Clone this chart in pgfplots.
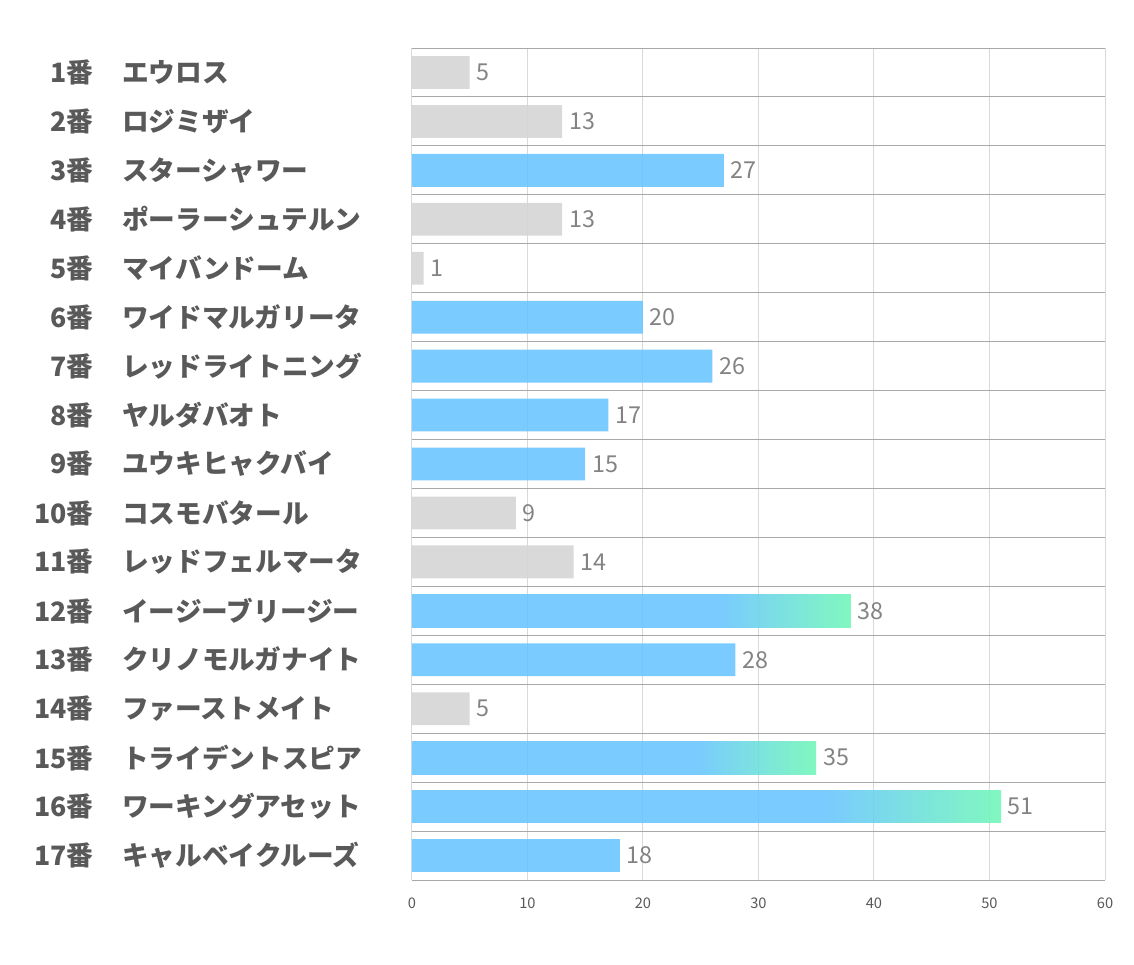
\documentclass[border=0pt]{standalone}
\usepackage{fontspec}
\setmainfont{Noto Sans CJK JP}
\usepackage{pgfplots}
\pgfplotsset{compat=1.18}
\definecolor{lblgray}{HTML}{595959}
\definecolor{valgray}{HTML}{767676}
\definecolor{barblue}{HTML}{6BC5FF}
\definecolor{bargray}{HTML}{D5D5D5}
\definecolor{bargreen}{HTML}{72F7B9}
\definecolor{sepgray}{HTML}{A8A8A8}
\definecolor{gridgray}{HTML}{D9D9D9}
\pgfdeclarehorizontalshading{bluegreen}{100bp}{color(0bp)=(barblue); color(60bp)=(barblue); color(75bp)=(bargreen); color(100bp)=(bargreen)}
\newcommand{\lab}[2]{\makebox[40pt][r]{#1番}\hspace{21.75pt}#2}
\begin{document}
\begin{tikzpicture}
\begin{axis}[
  at={(0,0)}, anchor=south west,
  scale only axis, width=519.75pt, height=624pt,
  xbar, bar width=0.67, bar shift=0pt,
  xmin=0, xmax=60, ymin=0.5, ymax=17.5, y dir=reverse,
  xtick={0,10,...,60},
  ytick={1,...,17},
  yticklabels={\lab{1}{エウロス},\lab{2}{ロジミザイ},\lab{3}{スターシャワー},\lab{4}{ポーラーシュテルン},\lab{5}{マイバンドーム},\lab{6}{ワイドマルガリータ},\lab{7}{レッドライトニング},\lab{8}{ヤルダバオト},\lab{9}{ユウキヒャクバイ},\lab{10}{コスモバタール},\lab{11}{レッドフェルマータ},\lab{12}{イージーブリージー},\lab{13}{クリノモルガナイト},\lab{14}{ファーストメイト},\lab{15}{トライデントスピア},\lab{16}{ワーキングアセット},\lab{17}{キャルベイクルーズ}},
  yticklabel style={anchor=west, inner sep=0pt, xshift=-279.25pt, font=\fontsize{20}{23}\selectfont\bfseries, text=lblgray},
  xticklabel style={inner sep=0pt, yshift=-13pt, font=\fontsize{11}{12}\selectfont, text=lblgray},
  /pgf/number format/assume math mode=true,
  major tick length=0pt,
  axis line style={draw=none},
  xmajorgrids=true,
  major grid style={gridgray, line width=0.75pt},
  extra y ticks={0.5,1.5,...,17.5},
  extra y tick labels={},
  extra y tick style={grid=major, major grid style={sepgray, line width=0.75pt}, major tick length=0pt},
  nodes near coords,
  every node near coord/.append style={anchor=west, inner sep=0pt, xshift=5pt, font=\fontsize{17.5}{20}\selectfont, text=valgray},
]
\addplot[draw=none, fill=bargray, fill opacity=0.9] coordinates {(5,1) (13,2) (13,4) (1,5) (9,10) (14,11) (5,14)};
\addplot[draw=none, fill=barblue, fill opacity=0.9] coordinates {(27,3) (20,6) (26,7) (17,8) (15,9) (28,13) (18,17)};
\addplot[draw=none, shading=bluegreen, fill opacity=0.9] coordinates {(38,12)};
\addplot[draw=none, shading=bluegreen, fill opacity=0.9] coordinates {(35,15)};
\addplot[draw=none, shading=bluegreen, fill opacity=0.9] coordinates {(51,16)};
\end{axis}
\pgfresetboundingbox
\path (-309pt,-63pt) rectangle (541.5pt,660pt);
\end{tikzpicture}
\end{document}
